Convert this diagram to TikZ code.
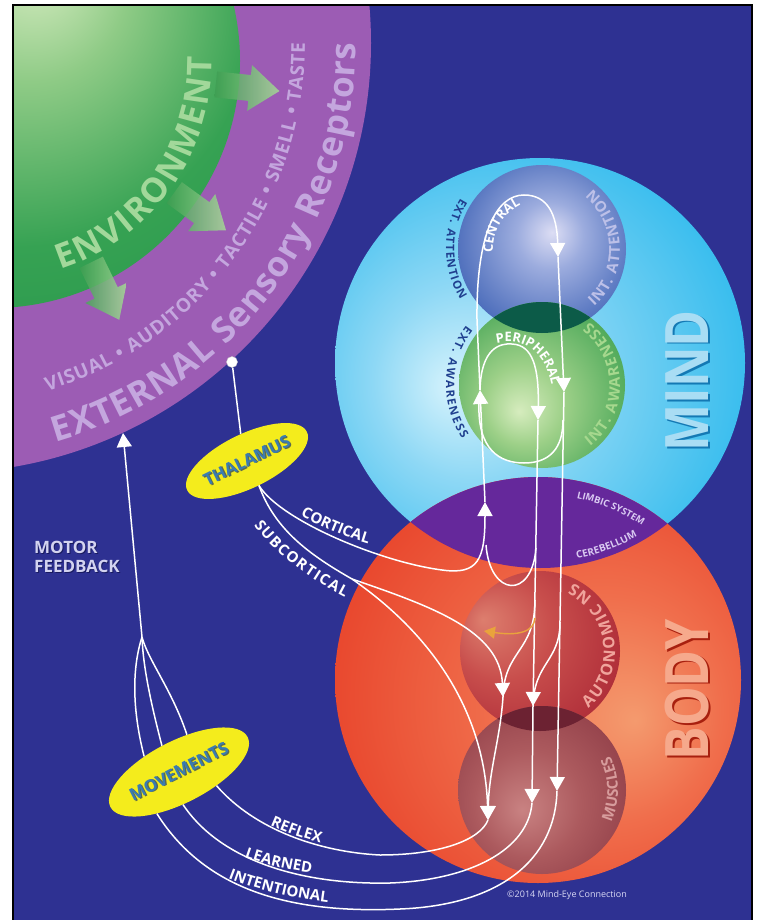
\documentclass[tikz,border=0pt]{standalone}
\usepackage{fontspec}
\setmainfont{Open Sans}
\usetikzlibrary{arrows.meta,decorations.text,shapes.geometric}

% palette
\definecolor{night}{HTML}{2E3192}
\definecolor{envhi}{HTML}{D9EDC3}
\definecolor{envmid}{HTML}{8FCB86}
\definecolor{envgr}{HTML}{36A253}
\definecolor{envdk}{HTML}{1A8C44}
\definecolor{envarrlo}{HTML}{3E9E52}
\definecolor{envarrhi}{HTML}{A8DA98}
\definecolor{purin}{HTML}{9C5CB4}
\definecolor{purmid}{HTML}{8C46A4}
\definecolor{purout}{HTML}{772E90}
\definecolor{mindhi}{HTML}{D4F2FC}
\definecolor{mindmid}{HTML}{8ED8F5}
\definecolor{mindgr}{HTML}{38BDEE}
\definecolor{mindedge}{HTML}{1DA9E5}
\definecolor{bodyhi}{HTML}{F49A6E}
\definecolor{bodymid}{HTML}{F06E4C}
\definecolor{bodygr}{HTML}{E8442B}
\definecolor{bodyedge}{HTML}{E02A1D}
\definecolor{cenhi}{HTML}{DCDDF4}
\definecolor{cenmid}{HTML}{9CACDE}
\definecolor{cengr}{HTML}{4C6DBB}
\definecolor{cenedge}{HTML}{244B9D}
\definecolor{perhi}{HTML}{D6ECBE}
\definecolor{permid}{HTML}{9DD088}
\definecolor{pergr}{HTML}{4EA95A}
\definecolor{peredge}{HTML}{2A8A3D}
\definecolor{authi}{HTML}{DD7E6E}
\definecolor{autmid}{HTML}{C84E4C}
\definecolor{autgr}{HTML}{AE2C38}
\definecolor{autedge}{HTML}{97192C}
\definecolor{mushi}{HTML}{C98282}
\definecolor{musmid}{HTML}{AC5A5E}
\definecolor{musgr}{HTML}{8E3C46}
\definecolor{musedge}{HTML}{7B2C38}
\definecolor{lenscp}{HTML}{0C5B48}
\definecolor{lensam}{HTML}{6C2232}
\definecolor{lensmb}{HTML}{65289B}
\definecolor{lemon}{HTML}{F4EC1C}
\definecolor{steel}{HTML}{3A7CB2}
\definecolor{steelsh}{HTML}{5A6A50}
\definecolor{lav}{HTML}{C4A6DE}
\definecolor{envtxt}{HTML}{A2D89A}
\definecolor{mindtxt}{HTML}{A9DDF4}
\definecolor{mindsh}{HTML}{1479B4}
\definecolor{bodytxt}{HTML}{F6A98C}
\definecolor{bodysh}{HTML}{A8200F}
\definecolor{pale}{HTML}{D3D3F0}
\definecolor{palesh}{HTML}{191B60}
\definecolor{orangeflow}{HTML}{E9A33C}
\definecolor{navytxt}{HTML}{20408F}
\definecolor{intatt}{HTML}{BCC0E8}
\definecolor{intaw}{HTML}{A6D88E}
\definecolor{autotxt}{HTML}{F0A49C}
\definecolor{mustxt}{HTML}{D79C9C}
\definecolor{limbtxt}{HTML}{D9C9F2}
\definecolor{copytxt}{HTML}{D8D8F4}

% shaded balls, highlight shifted off centre
\pgfdeclareradialshading{envball}{\pgfpoint{4.5bp}{9.9bp}}{color(0bp)=(envhi); color(10bp)=(envmid); color(24bp)=(envgr); color(50bp)=(envdk)}
\pgfdeclareradialshading{purball}{\pgfpoint{0bp}{0bp}}{color(0bp)=(purin); color(30bp)=(purin); color(43bp)=(purmid); color(50bp)=(purout)}
\pgfdeclareradialshading{mindball}{\pgfpoint{-11bp}{-3bp}}{color(0bp)=(mindhi); color(12bp)=(mindmid); color(30bp)=(mindgr); color(50bp)=(mindedge)}
\pgfdeclareradialshading{bodyball}{\pgfpoint{12bp}{-5bp}}{color(0bp)=(bodyhi); color(14bp)=(bodymid); color(32bp)=(bodygr); color(50bp)=(bodyedge)}
\pgfdeclareradialshading{cenball}{\pgfpoint{3bp}{5bp}}{color(0bp)=(cenhi); color(10bp)=(cenmid); color(28bp)=(cengr); color(50bp)=(cenedge)}
\pgfdeclareradialshading{perball}{\pgfpoint{-7bp}{-8bp}}{color(0bp)=(perhi); color(12bp)=(permid); color(30bp)=(pergr); color(50bp)=(peredge)}
\pgfdeclareradialshading{autball}{\pgfpoint{-18bp}{10bp}}{color(0bp)=(authi); color(16bp)=(autmid); color(34bp)=(autgr); color(50bp)=(autedge)}
\pgfdeclareradialshading{musball}{\pgfpoint{-6bp}{-6bp}}{color(0bp)=(mushi); color(16bp)=(musmid); color(34bp)=(musgr); color(50bp)=(musedge)}

% text with a drop shadow: x shift, y shift, shadow colour, colour, text
\newcommand\dropped[5]{\leavevmode\rlap{\kern#1\raisebox{#2}{\textcolor{#3}{#5}}}\textcolor{#4}{#5}}

\begin{document}
\begin{tikzpicture}[x=1pt,y=1pt,
  flow/.style={draw=white, line width=1.5pt},
  flowarr/.style={flow, -{Triangle[width=15pt,length=14pt]}},
  hint/.style={draw=orangeflow, line width=1.4pt, -{Triangle[width=12pt,length=11pt]}},
  bubble/.style={ellipse, fill=lemon, inner sep=0pt, font=\bfseries\fontsize{17}{17}\selectfont},
  arctext/.style 2 args={decorate, decoration={text along path, text align=center, text={|#1|#2}}},
  fittext/.style 2 args={decorate, decoration={text along path, text align={fit to path}, text={|#1|#2}}},
]
\useasboundingbox (0,0) rectangle (758,-920);
\fill[white] (0,0) rectangle (758,-920);
\fill[night] (13,-5) rectangle (752,-920);

% ------------------- environment and receptors -------------------
\begin{scope}
  \clip (13,-5) rectangle (752,-920);
  \shade[shading=purball] (-59,-43) circle[radius=430];
  \shade[shading=envball] (-7,-61) circle[radius=247];
  \foreach \ang in {-64,-36,-6} {
    \shade[left color=envarrlo, right color=envarrhi, opacity=.85, shift={(-7,-61)}, rotate=\ang]
      (224,-13) -- (258,-13) -- (258,-23) -- (288,0) -- (258,23) -- (258,13) -- (224,13) -- cycle;
  }
  \path[fittext={\bfseries\fontsize{34}{34}\selectfont\color{envtxt}}{ENVIRONMENT}, shift={(-7,-61)}]
    (-72:219) arc[start angle=-72, end angle=1, radius=219];
  \path[fittext={\bfseries\fontsize{19}{19}\selectfont\color{lav}}{VISUAL • AUDITORY • TACTILE • SMELL • TASTE}, shift={(-59,-43)}]
    (-73:364) arc[start angle=-73, end angle=0, radius=364];
  \path[fittext={\bfseries\fontsize{35}{35}\selectfont\color{lav}}{EXTERNAL Sensory Receptors}, shift={(-59,-43)}]
    (-74:415) arc[start angle=-74, end angle=0, radius=415];
\end{scope}

% ------------------- mind and body -------------------
\shade[shading=mindball] (540,-363) circle[radius=205];
\shade[shading=bodyball] (538,-680) circle[radius=203];
\begin{scope}
  \clip (540,-363) circle[radius=205];
  \fill[lensmb] (538,-680) circle[radius=203];
\end{scope}
\shade[shading=cenball] (542,-249) circle[radius=84];
\shade[shading=perball] (542,-385) circle[radius=83];
\begin{scope}
  \clip (542,-249) circle[radius=84];
  \fill[lenscp] (542,-385) circle[radius=83];
\end{scope}
\shade[shading=autball] (540,-651) circle[radius=80];
\shade[shading=musball] (542,-790) circle[radius=84];
\begin{scope}
  \clip (540,-651) circle[radius=80];
  \fill[lensam] (542,-790) circle[radius=84];
\end{scope}

% captions round the balls
\path[arctext={\bfseries\fontsize{13}{13}\selectfont\color{white}}{CENTRAL}, shift={(542,-249)}]
  (192:49) arc[start angle=192, end angle=108, radius=49];
\path[fittext={\bfseries\fontsize{15}{15}\selectfont\color{intatt}}{INT. ATTENTION}, shift={(542,-249)}]
  (-48:78) arc[start angle=-48, end angle=50, radius=78];
\path[fittext={\bfseries\fontsize{11.5}{11.5}\selectfont\color{navytxt}}{EXT. ATTENTION}, shift={(542,-249)}]
  (148:96) arc[start angle=148, end angle=212, radius=96];
\path[fittext={\bfseries\fontsize{11.5}{11.5}\selectfont\color{navytxt}}{EXT. AWARENESS}, shift={(542,-385)}]
  (142:96) arc[start angle=142, end angle=214, radius=96];
\path[fittext={\bfseries\fontsize{15}{15}\selectfont\color{intaw}}{INT. AWARENESS}, shift={(542,-385)}]
  (-52:78) arc[start angle=-52, end angle=53, radius=78];
\path[arctext={\bfseries\fontsize{13}{13}\selectfont\color{white}}{PERIPHERAL}]
  (486,-347) .. controls (520,-332) and (549,-350) .. (553,-396);
\path[fittext={\bfseries\fontsize{16}{16}\selectfont\color{autotxt}}{AUTONOMIC NS}, shift={(540,-651)}]
  (-50:75) arc[start angle=-50, end angle=64, radius=75];
\path[arctext={\bfseries\fontsize{15}{15}\selectfont\color{mustxt}}{MUSCLES}, shift={(542,-790)}]
  (-30:76) arc[start angle=-30, end angle=32, radius=76];
\path[arctext={\bfseries\fontsize{9.5}{9.5}\selectfont\color{limbtxt}}{LIMBIC SYSTEM}, shift={(538,-680)}]
  (84:186) arc[start angle=84, end angle=50, radius=186];
\path[arctext={\bfseries\fontsize{10}{10}\selectfont\color{limbtxt}}{CEREBELLUM}, shift={(540,-363)}]
  (-84:199) arc[start angle=-84, end angle=-56, radius=199];

\node[rotate=90, font=\bfseries\fontsize{50}{50}\selectfont] (mindlbl) at (688,-381)
  {\dropped{-1.5pt}{-2.5pt}{mindsh}{mindtxt}{\scalebox{1}[1.2]{MIND}}};
\node[rotate=90, font=\bfseries\fontsize{50}{50}\selectfont] (bodylbl) at (688,-690)
  {\dropped{-1.5pt}{-2.5pt}{bodysh}{bodytxt}{\scalebox{1}[1.2]{BODY}}};

% ------------------- relays -------------------
\node[bubble, minimum width=132pt, minimum height=54pt, rotate=26] (thal) at (247,-461)
  {\dropped{1pt}{-1.2pt}{steelsh}{steel}{THALAMUS}};
\node[bubble, minimum width=154pt, minimum height=62pt, rotate=27] (moves) at (179,-772)
  {\dropped{1pt}{-1.2pt}{steelsh}{steel}{MOVEMENTS}};
\node[circle, fill=white, draw=gray!40, minimum size=11pt, inner sep=0pt] (dot) at (232,-362) {};

\coordinate (up1)  at (485,-502);
\coordinate (up2)  at (480,-390);
\coordinate (cen)  at (558,-257);
\coordinate (rt1)  at (564,-392);
\coordinate (per)  at (538,-420);
\coordinate (aut1) at (503,-697);
\coordinate (aut2) at (533,-706);
\coordinate (mus1) at (488,-820);
\coordinate (mus2) at (532,-803);
\coordinate (mus3) at (557,-791);
\coordinate (sc)   at (352,-579);
\coordinate (fb)   at (142,-637);
\coordinate (recp) at (123,-433);
\coordinate (lpl)  at (479,-402);
\coordinate (lpr)  at (563,-420);
\coordinate (u1)   at (486,-545);
\coordinate (u2)   at (536,-548);
\coordinate (b1)   at (535,-600);
\coordinate (b2)   at (560,-622);
\coordinate (o1)   at (535,-618);
\coordinate (o2)   at (484,-631);

% ------------------- pathways -------------------
\draw[flow] (dot) -- (thal.77);
\draw[flowarr] (thal.south) .. controls (280,-520) and (380,-562) .. (442,-570)
  .. controls (478,-575) and (485,-560) .. (up1);
\draw[flowarr] (up1) -- (up2);
\draw[flowarr] (up2) -- (477,-320) .. controls (476,-232) and (497,-195) .. (524,-195)
  .. controls (548,-195) and (557,-215) .. (cen);
\draw[flowarr] (cen) -- (rt1);
\draw[flowarr] (rt1) -- (mus3);
\draw[flowarr] (up2) .. controls (481,-348) and (500,-343) .. (512,-344)
  .. controls (533,-345) and (539,-368) .. (per);
\draw[flow] (lpl) .. controls (477,-450) and (500,-463) .. (524,-463)
  .. controls (550,-463) and (563,-448) .. (lpr);
\draw[flowarr] (per) -- (aut2);
\draw[flowarr] (aut2) -- (mus2);
\draw[flow] (u1) .. controls (490,-597) and (532,-600) .. (u2);

\draw[flow] (thal.south) .. controls (275,-530) and (310,-555) .. (sc);
\draw[flowarr] (sc) .. controls (430,-606) and (500,-630) .. (aut1);
\draw[flowarr] (sc) .. controls (440,-640) and (485,-720) .. (mus1);
\draw[flow] (b1) .. controls (535,-652) and (504,-650) .. (aut1);
\draw[flow] (b2) .. controls (560,-662) and (534,-662) .. (aut2);
\draw[flowarr] (aut1) .. controls (500,-740) and (489,-770) .. (mus1);
\draw[hint] (o1) .. controls (534,-632) and (518,-636) .. (o2);

\draw[flow] (mus1) .. controls (480,-840) and (440,-855) .. (380,-855)
  .. controls (320,-852) and (255,-830) .. (moves.-47);
\draw[flow] (mus2) .. controls (528,-850) and (470,-880) .. (390,-883)
  .. controls (300,-885) and (220,-860) .. (moves.-110);
\draw[flow] (mus3) .. controls (555,-860) and (500,-905) .. (400,-909)
  .. controls (290,-914) and (205,-890) .. (moves.-145);

\draw[flow] (moves.129) .. controls (131,-705) and (133,-665) .. (fb);
\draw[flow] (moves.96) .. controls (150,-700) and (143,-665) .. (fb);
\draw[flow] (moves.51) .. controls (172,-690) and (148,-660) .. (fb);
\draw[flowarr] (fb) -- (recp);

% labels along the pathways
\path[arctext={\bfseries\fontsize{15}{15}\selectfont\color{white}}{CORTICAL}]
  (296,-513) .. controls (318,-526) and (345,-537) .. (373,-545);
\path[fittext={\bfseries\fontsize{15}{15}\selectfont\color{white}}{SUBCORTICAL}]
  (254,-525) .. controls (272,-550) and (302,-575) .. (345,-597);
\path[arctext={\bfseries\fontsize{15}{15}\selectfont\color{white}}{REFLEX}]
  (265,-823) .. controls (285,-832) and (303,-839) .. (326,-844);
\path[arctext={\bfseries\fontsize{15}{15}\selectfont\color{white}}{LEARNED}]
  (239,-855) .. controls (262,-864) and (288,-870) .. (317,-874);
\path[arctext={\bfseries\fontsize{15}{15}\selectfont\color{white}}{INTENTIONAL}]
  (218,-874) .. controls (255,-890) and (295,-899) .. (339,-904);

\node[font=\bfseries\fontsize{17}{19}\selectfont, align=left, anchor=north west, inner sep=0pt] (motor) at (34,-541)
  {\dropped{1pt}{-1.2pt}{palesh}{pale}{MOTOR}\\\dropped{1pt}{-1.2pt}{palesh}{pale}{FEEDBACK}};
\node[font=\fontsize{9}{9}\selectfont, text=copytxt] (copy) at (567,-895) {©2014 Mind-Eye Connection};

\draw[line width=1.2pt] (13,-920) -- (13,-5) -- (752,-5) -- (752,-920);
\end{tikzpicture}
\end{document}
